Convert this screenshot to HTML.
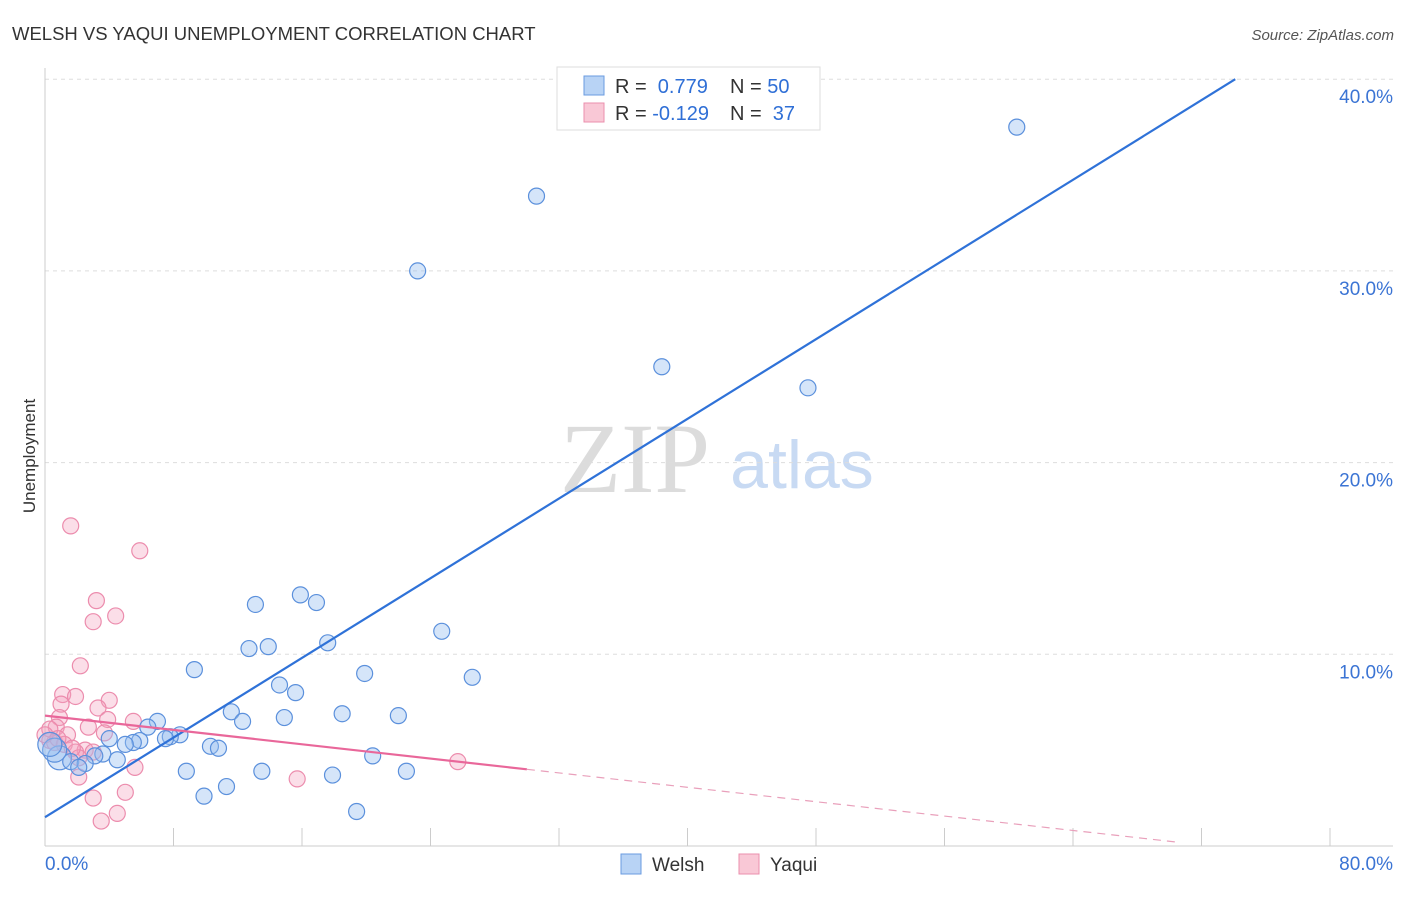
<!DOCTYPE html>
<html><head><meta charset="utf-8"><style>
body{margin:0;background:#fff;font-family:"Liberation Sans",sans-serif;}
</style></head><body>
<svg id="chart" width="1406" height="892" font-family="Liberation Sans, sans-serif">
<text x="12" y="40" font-size="18.5" fill="#333">WELSH VS YAQUI UNEMPLOYMENT CORRELATION CHART</text>
<text x="1394" y="40" font-size="15" fill="#555" font-style="italic" text-anchor="end">Source: ZipAtlas.com</text>
<text x="35" y="456" font-size="17" fill="#333" transform="rotate(-90 35 456)" text-anchor="middle">Unemployment</text>
<g><text x="635" y="492" style="font-family:'Liberation Serif',serif;font-size:100px" fill="#dcdcdc" text-anchor="middle">ZIP</text><text x="802" y="488" style="font-size:68px" fill="#c8daf3" text-anchor="middle">atlas</text></g>
<g id="grid"></g><g id="axes"></g><g id="marks"></g>
<g>
<rect x="557" y="67" width="263" height="63" fill="#fff" stroke="#ddd"/>
<rect x="584" y="76" width="20" height="19" fill="#b8d3f5" stroke="#6a9be0"/>
<rect x="584" y="103" width="20" height="19" fill="#f9c8d6" stroke="#eb8fad"/>
<text x="615" y="93" font-size="20" fill="#333">R = <tspan fill="#2f6fd6">&#160;0.779</tspan><tspan x="730">N = </tspan><tspan fill="#2f6fd6">50</tspan></text>
<text x="615" y="120" font-size="20" fill="#333">R = <tspan fill="#2f6fd6">-0.129</tspan><tspan x="730">N = </tspan><tspan fill="#2f6fd6">&#160;37</tspan></text>
</g>
<g>
<rect x="621" y="854" width="20" height="20" fill="#b8d3f5" stroke="#6a9be0"/><text x="652" y="871" font-size="19" fill="#333">Welsh</text>
<rect x="739" y="854" width="20" height="20" fill="#f9c8d6" stroke="#eb8fad"/><text x="770" y="871" font-size="19" fill="#333">Yaqui</text>
</g>
</svg>
<script>
const xTicks=[0,8,16,24,32,40,48,56,64,72,80];
const yTicks=[10,20,30,40];
const welshX=[60.5,30.6,23.2,38.4,47.5,15.9,16.9,13.1,24.7,17.6,13.9,12.7,9.3,19.9,26.6,14.6,15.6,11.6,18.5,22.0,14.9,12.3,7.0,6.4,8.4,7.8,7.5,4.0,5.9,5.5,5.0,10.3,10.8,3.6,3.1,4.5,20.4,0.9,1.6,2.5,2.1,8.8,13.5,22.5,17.9,11.3,9.9,19.4,0.6,0.3];
const welshY=[37.5,33.9,30.0,25.0,23.9,13.1,12.7,12.6,11.2,10.6,10.4,10.3,9.2,9.0,8.8,8.4,8.0,7.0,6.9,6.8,6.7,6.5,6.5,6.2,5.8,5.7,5.6,5.6,5.5,5.4,5.3,5.2,5.1,4.8,4.7,4.5,4.7,4.6,4.4,4.3,4.1,3.9,3.9,3.9,3.7,3.1,2.6,1.8,5.0,5.3];
const yaquiX=[1.6,5.9,3.2,4.4,3.0,2.2,1.1,1.9,4.0,1.0,3.3,0.9,3.9,5.5,2.7,3.7,0.7,1.4,0.3,0.6,1.2,2.5,3.0,1.9,2.1,5.6,25.7,15.7,2.1,3.0,5.0,4.5,3.5,0.3,0.0,0.8,1.7];
const yaquiY=[16.7,15.4,12.8,12.0,11.7,9.4,7.9,7.8,7.6,7.4,7.2,6.7,6.6,6.5,6.2,5.9,6.2,5.8,5.5,5.4,5.3,5.0,4.9,4.9,4.6,4.1,4.4,3.5,3.6,2.5,2.8,1.7,1.3,6.1,5.8,5.6,5.1];
const welshTrend=[0,1.5,74.1,40];
const yaquiTrend=[0,6.8,30,4.0,70.5,0.2];
const NS="http://www.w3.org/2000/svg";
const sx=v=>45+v*(1330-45)/80, sy=v=>846-v*19.17;
function mk(t,a,p){const e=document.createElementNS(NS,t);for(const k in a)e.setAttribute(k,a[k]);p.appendChild(e);return e;}
const grid=document.getElementById('grid'),axes=document.getElementById('axes'),marks=document.getElementById('marks');
yTicks.forEach(v=>{const l=mk('line',{x1:45,x2:1393,y1:sy(v),y2:sy(v),stroke:'#ddd','stroke-dasharray':'4,4'},grid);


const t=mk('text',{x:1393,y:sy(v)+24,'font-size':19,fill:'#3b74d4','text-anchor':'end'},axes);t.textContent=v.toFixed(1)+'%';

});
const ax=mk('line',{x1:45,x2:45,y1:68,y2:846,stroke:'#ccc'},axes);


const bx=mk('line',{x1:45,x2:1393,y1:846,y2:846,stroke:'#ccc'},axes);


xTicks.forEach(v=>{const l=mk('line',{x1:sx(v),x2:sx(v),y1:828,y2:846,stroke:'#ccc'},axes);

});
[[0,'start'],[80,'end']].forEach(([v,a])=>{const t=mk('text',{x:v?1393:45,y:870,'font-size':19,fill:'#3b74d4','text-anchor':a},axes);t.textContent=v.toFixed(1)+'%';

});
yaquiX.forEach((x,i)=>{const c=mk('circle',{cx:sx(x),cy:sy(yaquiY[i]),r:8,fill:'rgba(244,160,190,0.35)',stroke:'#ec8cad','stroke-width':1.2},marks);

});
welshX.forEach((x,i)=>{const c=mk('circle',{cx:sx(x),cy:sy(welshY[i]),r:(x<1?12:8),fill:'rgba(150,190,240,0.4)',stroke:'#5b90dc','stroke-width':1.2},marks);

});
const wl=mk('line',{x1:sx(welshTrend[0]),y1:sy(welshTrend[1]),x2:sx(welshTrend[2]),y2:sy(welshTrend[3]),stroke:'#2f72d8','stroke-width':2.2},marks);


const yl=mk('line',{x1:sx(yaquiTrend[0]),y1:sy(yaquiTrend[1]),x2:sx(yaquiTrend[2]),y2:sy(yaquiTrend[3]),stroke:'#e9679a','stroke-width':2.2},marks);


const yd=mk('line',{x1:sx(yaquiTrend[2]),y1:sy(yaquiTrend[3]),x2:sx(yaquiTrend[4]),y2:sy(yaquiTrend[5]),stroke:'#e9a0bb','stroke-width':1.2,'stroke-dasharray':'8,6'},marks);


</script>
</body></html>
